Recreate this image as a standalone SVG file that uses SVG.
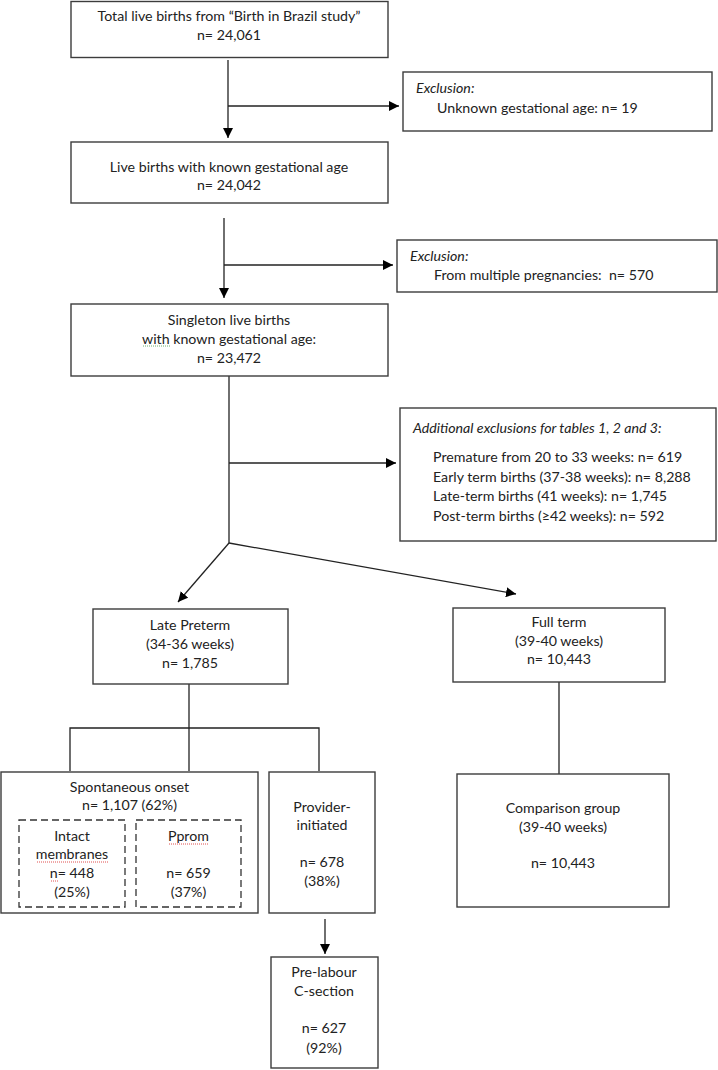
<svg xmlns="http://www.w3.org/2000/svg" width="718" height="1070" viewBox="0 0 718 1070">
<defs>
<marker id="ah" viewBox="0 0 10 10" refX="10" refY="5" markerWidth="10" markerHeight="10" markerUnits="userSpaceOnUse" orient="auto">
<path d="M0,0 L10,5 L0,10 z" fill="#000"/>
</marker>
</defs>
<style>
.box{fill:#fff;stroke:#3c3c3c;stroke-width:1.4}
.dash{fill:none;stroke:#333;stroke-width:1.3;stroke-dasharray:7,4}
.t{font-family:Lato,"Liberation Sans",sans-serif;font-size:14.2px;fill:#222}
.c{text-anchor:middle}
.i{font-style:italic}
.ln{fill:none;stroke:#222;stroke-width:1.3}
.sq{fill:none;stroke:#e05050;stroke-width:1;stroke-dasharray:1,1}
.sqg{fill:none;stroke:#70b070;stroke-width:1;stroke-dasharray:1,1}
</style>
<rect width="718" height="1070" fill="#fff"/>

<g id="connectors">
<line class="ln" x1="228" y1="60" x2="228" y2="138" marker-end="url(#ah)"/>
<line class="ln" x1="228" y1="106" x2="399" y2="106" marker-end="url(#ah)"/>
<line class="ln" x1="224" y1="218" x2="224" y2="298" marker-end="url(#ah)"/>
<line class="ln" x1="224" y1="265" x2="393" y2="265" marker-end="url(#ah)"/>
<line class="ln" x1="229" y1="376" x2="229" y2="543"/>
<line class="ln" x1="229" y1="463" x2="396" y2="463" marker-end="url(#ah)"/>
<line class="ln" x1="229" y1="543" x2="178" y2="602" marker-end="url(#ah)"/>
<line class="ln" x1="229" y1="543" x2="516" y2="594" marker-end="url(#ah)"/>
<line class="ln" x1="189" y1="684" x2="189" y2="771"/>
<polyline class="ln" points="70,771 70,728 319,728 319,771"/>
<line class="ln" x1="559" y1="682" x2="559" y2="774"/>
<line class="ln" x1="325" y1="919" x2="325" y2="954" marker-end="url(#ah)"/>
</g>

<g id="total">
<rect class="box" x="71" y="1.5" width="317" height="56"/>
<text class="t c" x="229" y="21">Total live births from “Birth in Brazil study”</text>
<text class="t c" x="229" y="40">n= 24,061</text>
</g>

<g id="excl1">
<rect class="box" x="403" y="72" width="309" height="59"/>
<text class="t i" x="416" y="93">Exclusion:</text>
<text class="t" x="437" y="113">Unknown gestational age: n= 19</text>
</g>

<g id="known">
<rect class="box" x="71" y="142" width="317" height="61"/>
<text class="t c" x="229" y="172">Live births with known gestational age</text>
<text class="t c" x="229" y="190">n= 24,042</text>
</g>

<g id="excl2">
<rect class="box" x="397" y="240" width="320" height="52"/>
<text class="t i" x="410" y="261">Exclusion:</text>
<text class="t" x="434" y="280" xml:space="preserve">From multiple pregnancies:  n= 570</text>
</g>

<g id="singleton">
<rect class="box" x="71" y="304" width="317" height="72"/>
<text class="t c" x="229" y="325">Singleton live births</text>
<text class="t c" x="229" y="344">with known gestational age:</text>
<path class="sqg" d="M143,346 h28"/>
<text class="t c" x="229" y="363">n= 23,472</text>
</g>

<g id="additional">
<rect class="box" x="400" y="408" width="316" height="133"/>
<text class="t i" x="413" y="433">Additional exclusions for tables 1, 2 and 3:</text>
<text class="t" x="433" y="462">Premature from 20 to 33 weeks: n= 619</text>
<text class="t" x="433" y="482">Early term births (37-38 weeks): n= 8,288</text>
<text class="t" x="433" y="501">Late-term births (41 weeks): n= 1,745</text>
<text class="t" x="433" y="521">Post-term births (≥42 weeks): n= 592</text>
</g>

<g id="latepreterm">
<rect class="box" x="93" y="609" width="195" height="75"/>
<text class="t c" x="190" y="630">Late Preterm</text>
<text class="t c" x="190" y="649">(34-36 weeks)</text>
<text class="t c" x="190" y="668">n= 1,785</text>
</g>

<g id="fullterm">
<rect class="box" x="453" y="608" width="212" height="74"/>
<text class="t c" x="559" y="627">Full term</text>
<text class="t c" x="559" y="646">(39-40 weeks)</text>
<text class="t c" x="559" y="664">n= 10,443</text>
</g>

<g id="spontaneous">
<rect class="box" x="1" y="772" width="257" height="141"/>
<text class="t c" x="129.5" y="792">Spontaneous onset</text>
<text class="t c" x="129.5" y="810">n= 1,107 (62%)</text>
</g>

<g id="intact">
<rect class="dash" x="19" y="820" width="106" height="87"/>
<text class="t c" x="72" y="841">Intact</text>
<text class="t c" x="72" y="859">membranes</text>
<path class="sq" d="M37,862 h71"/>
<text class="t c" x="72" y="878">n= 448</text>
<path class="sq" d="M51,881 h8"/>
<text class="t c" x="72" y="897">(25%)</text>
</g>

<g id="pprom">
<rect class="dash" x="136" y="820" width="105" height="87"/>
<text class="t c" x="188.5" y="841">Pprom</text>
<path class="sq" d="M169,844 h40"/>
<text class="t c" x="188.5" y="878">n= 659</text>
<text class="t c" x="188.5" y="897">(37%)</text>
</g>

<g id="provider">
<rect class="box" x="269" y="772" width="106" height="141"/>
<text class="t c" x="322" y="812">Provider-</text>
<text class="t c" x="322" y="830">initiated</text>
<text class="t c" x="322" y="867">n= 678</text>
<text class="t c" x="322" y="886">(38%)</text>
</g>

<g id="prelabour">
<rect class="box" x="271" y="957" width="107" height="111"/>
<text class="t c" x="324" y="977">Pre-labour</text>
<text class="t c" x="324" y="996">C-section</text>
<text class="t c" x="324" y="1033">n= 627</text>
<text class="t c" x="324" y="1053">(92%)</text>
</g>

<g id="comparison">
<rect class="box" x="457" y="774" width="212" height="133"/>
<text class="t c" x="563" y="813">Comparison group</text>
<text class="t c" x="563" y="832">(39-40 weeks)</text>
<text class="t c" x="563" y="868">n= 10,443</text>
</g>
</svg>
